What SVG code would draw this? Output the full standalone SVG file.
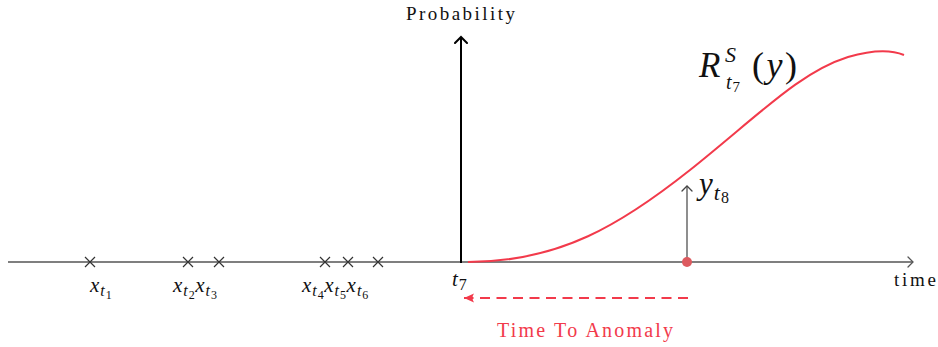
<svg xmlns="http://www.w3.org/2000/svg" width="938" height="347" viewBox="0 0 938 347">
<style>
.m{font-family:'Liberation Serif','Times New Roman','DejaVu Serif',serif;font-style:italic;fill:#111}
.r{font-family:'Liberation Serif','Times New Roman','DejaVu Serif',serif;fill:#111}
.s{font-size:16px}
.ss{font-size:12px;font-style:normal}
.cross{stroke:#333;stroke-width:1.2}
</style>
<defs>
<marker id="open" viewBox="-6 -6 8 12" markerWidth="8" markerHeight="12" refX="0" refY="0" orient="auto" markerUnits="userSpaceOnUse">
<path d="M-5,-5 L0,0 L-5,5" fill="none" stroke="context-stroke" stroke-width="1.3" stroke-linecap="round"/>
</marker>
<marker id="openB" viewBox="-7 -7 9 14" markerWidth="9" markerHeight="14" refX="0" refY="0" orient="auto" markerUnits="userSpaceOnUse">
<path d="M-6,-6 L0,0 L-6,6" fill="none" stroke="#000" stroke-width="2" stroke-linecap="round"/>
</marker>
<marker id="fill" viewBox="-10 -5 11 10" markerWidth="11" markerHeight="10" refX="0" refY="0" orient="auto" markerUnits="userSpaceOnUse">
<path d="M0,0 L-10,-4.5 Q-7,0 -10,4.5 Z" fill="#f23a4b"/>
</marker>
</defs>
<rect width="938" height="347" fill="#fff"/>
<g id="connectors">
<line id="time-axis" x1="8" y1="262" x2="913" y2="262" stroke="#555" stroke-width="1.3" marker-end="url(#open)"/>
<line id="prob-axis" x1="461" y1="263" x2="461" y2="37" stroke="#000" stroke-width="2" marker-end="url(#openB)"/>
<line id="yt8-arrow" x1="687" y1="262" x2="687" y2="186" stroke="#444" stroke-width="1.2" marker-end="url(#open)"/>
<line id="tta-arrow" x1="688" y1="298" x2="464" y2="298" stroke="#f23a4b" stroke-width="2" stroke-dasharray="10,6.5" marker-end="url(#fill)"/>
</g>
<g id="curve">
<path d="M468,262 C560,262 622,224 690,170 C760,114 800,72 848,57 C872,50 892,50 904,55" fill="none" stroke="#f23a4b" stroke-width="2"/>
</g>
<g id="crosses" class="cross">
<path d="M85,257 l10,10 M85,267 l10,-10"/>
<path d="M183,257 l10,10 M183,267 l10,-10"/>
<path d="M214,257 l10,10 M214,267 l10,-10"/>
<path d="M320,257 l10,10 M320,267 l10,-10"/>
<path d="M343,257 l10,10 M343,267 l10,-10"/>
<path d="M373,257 l10,10 M373,267 l10,-10"/>
</g>
<g id="labels-x">
<text class="m" x="90" y="292" font-size="21">x<tspan class="s" dx="1" dy="4">t</tspan><tspan class="ss" dx="1" dy="3">1</tspan></text>
<text class="m" x="173" y="292" font-size="21">x<tspan class="s" dx="1" dy="4">t</tspan><tspan class="ss" dx="1" dy="3">2</tspan><tspan dx="0.5" dy="-7">x</tspan><tspan class="s" dx="1" dy="4">t</tspan><tspan class="ss" dx="1" dy="3">3</tspan></text>
<text class="m" x="302" y="292" font-size="21">x<tspan class="s" dx="1" dy="4">t</tspan><tspan class="ss" dx="1" dy="3">4</tspan><tspan dx="0.5" dy="-7">x</tspan><tspan class="s" dx="1" dy="4">t</tspan><tspan class="ss" dx="1" dy="3">5</tspan><tspan dx="0.5" dy="-7">x</tspan><tspan class="s" dx="1" dy="4">t</tspan><tspan class="ss" dx="1" dy="3">6</tspan></text>
</g>
<g id="t7-label">
<text class="m" x="452" y="286" font-size="21">t<tspan class="s" font-style="normal" dx="1" dy="4">7</tspan></text>
</g>
<g id="probability-label">
<text class="r" x="406" y="20" font-size="19" textLength="109" lengthAdjust="spacing">Probability</text>
</g>
<g id="time-label">
<text class="r" x="894" y="286" font-size="19" textLength="42" lengthAdjust="spacing">time</text>
</g>
<g id="obs">
<circle cx="687" cy="262" r="5" fill="#dd5a5f"/>
<text class="m" x="699" y="194" font-size="31">y<tspan font-size="22" dx="1" dy="6">t</tspan><tspan font-size="16" font-style="normal" dx="1" dy="3">8</tspan></text>
</g>
<g id="R-label">
<text class="m" x="699" y="77" font-size="35">R</text>
<text class="m" x="725" y="62" font-size="22">S</text>
<text class="m" x="726" y="89" font-size="20">t<tspan font-size="15" font-style="normal" dx="1" dy="3">7</tspan></text>
<text class="m" x="752" y="77" font-size="36" textLength="45" lengthAdjust="spacing"><tspan font-style="normal">(</tspan>y<tspan font-style="normal">)</tspan></text>
</g>
<g id="tta-label">
<text class="r" x="497" y="337" font-size="20" style="fill:#f23a4b" textLength="176" lengthAdjust="spacing">Time To Anomaly</text>
</g>
</svg>
